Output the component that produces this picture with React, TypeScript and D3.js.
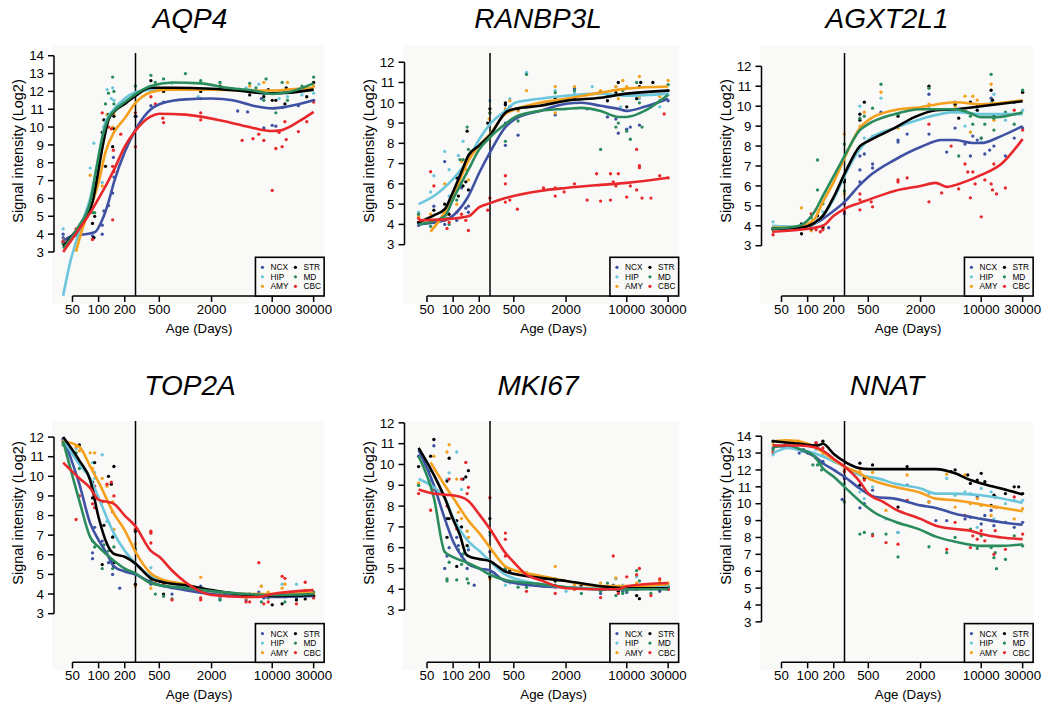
import React from "react";
import * as d3 from "d3";

type Pt = [number, number];

// brain regions, legend order is column-wise (NCX HIP AMY | STR MD CBC)
const regions = ["NCX", "HIP", "AMY", "STR", "MD", "CBC"];
const regionColors = ["#3F51A3", "#6CC6DB", "#F5A01C", "#000000", "#2A8C5C", "#E8282B"];
const genes = ["AQP4", "RANBP3L", "AGXT2L1", "TOP2A", "MKI67", "NNAT"];
const xTicks = [50, 100, 200, 500, 2000, 10000, 30000];
const yTickTop = [14, 12, 12, 12, 12, 14];
const birthAge = 266;

// ---- AQP4 ----
const aqp4Curves: Record<string, Pt[]> = {
  NCX: [[39, 3.65], [50, 3.9], [60, 3.95], [90, 4.1], [110, 4.8], [130, 5.8], [150, 6.9], [200, 8.6], [266, 9.85], [400, 11.0], [550, 11.35], [1000, 11.55], [2000, 11.6], [3500, 11.5], [6000, 11.2], [10000, 11.05], [15000, 11.15], [30000, 11.5]],
  HIP: [[39, 0.55], [48, 2.6], [56, 3.7], [65, 4.7], [80, 6.0], [100, 8.3], [120, 10.3], [150, 11.0], [200, 11.6], [266, 11.95], [400, 12.1], [1000, 12.15], [3000, 12.1], [7000, 11.95], [10000, 11.9], [15000, 11.95], [30000, 12.1]],
  AMY: [[55, 3.05], [65, 4.3], [85, 5.8], [100, 6.9], [120, 8.6], [150, 9.7], [200, 10.5], [266, 11.35], [400, 11.95], [600, 12.1], [2000, 12.1], [5000, 12.05], [10000, 12.05], [15000, 12.1], [30000, 12.2]],
  STR: [[39, 3.3], [50, 3.95], [60, 4.4], [85, 5.8], [95, 7.0], [110, 8.8], [130, 10.4], [150, 10.85], [200, 11.3], [266, 11.75], [400, 12.2], [700, 12.2], [2000, 12.15], [5000, 12.0], [8000, 11.9], [12000, 11.9], [30000, 12.1]],
  MD: [[39, 3.2], [50, 3.9], [60, 4.5], [80, 5.8], [95, 7.8], [110, 9.4], [130, 10.5], [150, 10.9], [200, 11.4], [266, 11.85], [400, 12.3], [700, 12.5], [1500, 12.45], [3000, 12.2], [6000, 12.05], [10000, 11.85], [15000, 11.95], [30000, 12.45]],
  CBC: [[39, 3.0], [60, 4.3], [85, 5.4], [100, 6.0], [130, 7.0], [150, 7.6], [200, 8.9], [266, 9.8], [400, 10.6], [500, 10.75], [1000, 10.7], [3000, 10.3], [6000, 9.95], [10000, 9.78], [12000, 9.8], [20000, 10.3], [30000, 10.85]],
};
const aqp4Samples: Record<string, Pt[]> = {
  NCX: [[39, 4.0], [39, 3.8], [60, 3.9], [85, 3.9], [88, 3.8], [110, 4.5], [110, 4.0], [115, 5.3], [130, 5.6], [145, 6.3], [148, 8.3], [150, 7.2], [270, 10.6], [400, 11.2], [560, 11.4], [1500, 11.6], [4000, 10.9], [5200, 10.85], [7500, 11.6], [8000, 9.95], [10000, 10.1], [11000, 10.05], [13000, 11.1], [20000, 11.2], [30000, 11.5]],
  HIP: [[39, 4.3], [80, 7.7], [88, 9.1], [110, 6.9], [115, 9.6], [125, 12.1], [140, 11.6], [145, 12.2], [150, 11.5], [265, 11.9], [400, 12.0], [700, 12.45], [1400, 11.7], [2500, 12.5], [5000, 12.2], [7000, 12.4], [8000, 11.8], [12000, 11.6], [15000, 11.7], [22000, 11.8], [30000, 11.9]],
  AMY: [[40, 3.7], [55, 3.1], [80, 7.3], [85, 5.9], [110, 6.7], [125, 10.7], [145, 10.0], [150, 10.7], [265, 11.9], [400, 12.1], [560, 12.05], [1500, 12.1], [2500, 12.3], [5500, 12.3], [8000, 12.5], [12000, 12.0], [15000, 12.5], [25000, 12.1], [30000, 12.3]],
  STR: [[39, 3.5], [60, 4.2], [85, 4.6], [88, 3.8], [90, 5.0], [110, 9.7], [115, 10.4], [120, 7.8], [130, 10.7], [145, 8.9], [150, 9.9], [150, 10.6], [265, 10.6], [400, 12.6], [560, 12.0], [1500, 12.0], [2500, 12.3], [5500, 11.8], [8000, 11.7], [9000, 12.1], [10000, 11.5], [11000, 11.5], [14000, 11.3], [14500, 12.2], [25000, 11.7], [30000, 12.5]],
  MD: [[39, 3.5], [85, 5.2], [90, 5.2], [115, 10.0], [120, 11.3], [130, 11.9], [145, 12.8], [150, 11.3], [150, 12.0], [265, 12.3], [400, 12.9], [450, 12.5], [560, 12.7], [1000, 13.0], [1500, 12.6], [2500, 12.5], [5500, 12.45], [6500, 12.2], [8000, 11.5], [8500, 12.7], [11000, 10.8], [13000, 12.5], [15000, 11.5], [22000, 12.3], [30000, 12.8]],
  CBC: [[39, 3.6], [55, 4.3], [85, 3.7], [110, 10.8], [130, 10.0], [140, 9.9], [145, 4.8], [145, 7.8], [148, 8.7], [150, 7.5], [180, 9.6], [265, 8.9], [265, 10.8], [400, 11.7], [450, 11.3], [550, 10.5], [560, 10.25], [1500, 10.4], [1500, 10.8], [4500, 9.25], [6000, 9.35], [7000, 9.6], [8000, 9.25], [10000, 6.45], [11000, 8.8], [12000, 9.7], [13000, 8.9], [14000, 10.3], [14500, 9.3], [20000, 9.75], [25000, 10.3], [30000, 11.4]],
};

// ---- RANBP3L ----
const ranbp3lCurves: Record<string, Pt[]> = {
  NCX: [[40, 4.0], [80, 4.2], [110, 4.6], [150, 5.4], [200, 6.55], [266, 7.55], [400, 8.8], [520, 9.2], [1000, 9.6], [2000, 9.95], [3000, 10.0], [5000, 9.85], [8000, 9.7], [10000, 9.6], [16000, 9.8], [30000, 10.2]],
  HIP: [[40, 5.0], [60, 5.4], [100, 6.25], [150, 7.2], [200, 8.2], [266, 8.95], [400, 9.6], [520, 10.0], [1000, 10.2], [2000, 10.35], [5000, 10.45], [10000, 10.35], [30000, 10.45]],
  AMY: [[55, 3.64], [80, 4.6], [100, 5.4], [150, 7.15], [200, 7.9], [266, 8.45], [400, 9.45], [1000, 10.0], [2000, 10.2], [5000, 10.5], [10000, 10.7], [30000, 10.8]],
  STR: [[40, 4.1], [60, 4.45], [80, 4.75], [95, 5.4], [125, 6.6], [150, 7.4], [200, 7.9], [266, 8.4], [410, 9.55], [520, 9.7], [1000, 9.85], [2000, 10.1], [5000, 10.25], [10000, 10.45], [30000, 10.6]],
  MD: [[40, 4.0], [80, 4.4], [100, 5.25], [150, 6.7], [200, 7.7], [266, 8.3], [400, 8.95], [520, 9.3], [1000, 9.6], [2000, 9.7], [3000, 9.75], [5000, 9.6], [8000, 9.3], [10000, 9.3], [16000, 9.6], [30000, 10.4]],
  CBC: [[40, 4.2], [80, 4.25], [150, 4.4], [200, 4.85], [266, 5.05], [400, 5.3], [1000, 5.65], [2000, 5.8], [5000, 5.95], [10000, 6.05], [30000, 6.3]],
};
const ranbp3lSamples: Record<string, Pt[]> = {
  NCX: [[40, 3.95], [40, 4.1], [60, 4.9], [80, 7.1], [80, 4.0], [110, 4.2], [125, 5.8], [140, 4.8], [150, 4.6], [150, 4.9], [400, 7.9], [400, 9.0], [560, 8.4], [1500, 9.4], [2500, 10.7], [3500, 9.7], [6000, 9.3], [7500, 9.2], [8000, 8.5], [10000, 8.7], [11000, 8.8], [14000, 8.9], [19000, 9.8], [30000, 10.1]],
  HIP: [[40, 4.6], [55, 5.6], [60, 6.4], [80, 7.6], [90, 5.4], [90, 6.7], [115, 7.4], [130, 8.1], [150, 7.4], [265, 10.1], [265, 7.5], [400, 9.9], [450, 10.2], [700, 11.5], [1500, 10.6], [2500, 10.5], [4000, 10.8], [7500, 10.8], [8500, 9.8], [12000, 10.4], [14000, 10.2], [24000, 9.8], [30000, 10.4]],
  AMY: [[40, 4.4], [55, 4.5], [80, 6.0], [85, 4.5], [110, 5.0], [125, 7.1], [140, 6.7], [150, 6.2], [260, 9.2], [265, 9.5], [400, 9.7], [450, 10.1], [560, 9.6], [700, 10.6], [1500, 10.8], [1500, 9.5], [2500, 10.8], [5000, 10.6], [7500, 10.8], [8000, 10.2], [9000, 11.1], [10000, 10.8], [14000, 11.3], [14000, 10.3], [24000, 10.3], [30000, 11.1]],
  STR: [[40, 4.1], [55, 4.1], [60, 4.7], [80, 5.0], [90, 4.5], [110, 6.3], [115, 5.4], [125, 6.6], [130, 5.9], [140, 6.1], [145, 8.6], [150, 5.7], [250, 9.0], [265, 9.7], [400, 10.0], [400, 9.9], [450, 9.8], [560, 9.7], [1500, 10.2], [2500, 10.2], [5000, 10.5], [6000, 10.1], [7500, 10.5], [8000, 11.0], [10000, 9.8], [13000, 10.2], [14000, 10.8], [14500, 11.0], [20000, 11.0], [30000, 10.6]],
  MD: [[40, 4.5], [55, 3.9], [85, 4.3], [90, 4.0], [110, 5.2], [120, 7.2], [130, 7.2], [145, 8.8], [150, 7.7], [265, 9.5], [400, 8.1], [400, 9.6], [560, 9.1], [700, 11.4], [1500, 10.5], [2500, 10.6], [5000, 7.7], [6000, 10.4], [7500, 8.8], [8000, 9.0], [9000, 10.6], [10000, 8.6], [11000, 8.2], [13000, 11.0], [14000, 10.0], [15000, 8.8], [24000, 10.1], [30000, 10.9]],
  CBC: [[40, 4.3], [55, 6.6], [60, 5.9], [80, 4.2], [85, 3.8], [90, 4.1], [110, 4.6], [125, 4.5], [140, 4.2], [150, 3.7], [250, 4.7], [265, 5.3], [400, 6.4], [400, 6.0], [400, 5.1], [450, 5.2], [550, 4.75], [1100, 5.8], [1500, 5.8], [1500, 5.4], [1900, 5.6], [2500, 6.0], [3500, 5.2], [4500, 6.5], [5000, 5.15], [6500, 6.5], [6500, 5.2], [7000, 6.1], [7500, 5.9], [8000, 6.5], [10000, 5.35], [11000, 5.9], [13000, 7.7], [13000, 5.7], [14000, 6.9], [14000, 6.8], [15000, 5.3], [19000, 5.3], [24000, 6.4], [27000, 9.45], [30000, 6.3]],
};

// ---- AGXT2L1 ----
const agxt2l1Curves: Record<string, Pt[]> = {
  NCX: [[39, 3.85], [80, 3.9], [120, 4.1], [150, 4.35], [200, 4.75], [266, 5.2], [400, 6.05], [500, 6.45], [1000, 7.3], [2000, 7.95], [3500, 8.3], [5000, 8.3], [8000, 8.15], [10000, 8.15], [17000, 8.5], [30000, 9.0]],
  HIP: [[39, 4.0], [80, 3.95], [120, 4.1], [150, 4.5], [200, 5.35], [266, 6.5], [400, 7.85], [500, 8.3], [1000, 8.9], [2000, 9.35], [5000, 9.7], [10000, 9.6], [30000, 9.6]],
  AMY: [[39, 3.9], [80, 3.95], [120, 4.35], [150, 5.2], [200, 6.2], [266, 7.4], [400, 8.9], [500, 9.3], [1000, 9.8], [2000, 9.95], [5000, 10.2], [10000, 10.1], [30000, 10.3]],
  STR: [[39, 3.85], [80, 3.9], [120, 4.15], [150, 4.5], [200, 5.45], [266, 6.6], [400, 8.0], [500, 8.25], [1000, 8.9], [1700, 9.45], [3000, 9.8], [5000, 9.85], [10000, 10.0], [30000, 10.25]],
  MD: [[39, 3.85], [80, 4.0], [120, 4.7], [150, 5.5], [200, 6.5], [266, 7.5], [400, 8.8], [500, 9.1], [1000, 9.6], [2000, 9.85], [5000, 9.85], [7000, 9.7], [10000, 9.45], [15000, 9.45], [30000, 9.7]],
  CBC: [[39, 3.7], [80, 3.8], [150, 4.0], [200, 4.5], [266, 4.85], [400, 5.15], [500, 5.3], [1000, 5.75], [2000, 6.0], [3000, 6.15], [4000, 5.95], [5500, 6.1], [10000, 6.55], [17000, 7.1], [30000, 8.35]],
};
const agxt2l1Samples: Record<string, Pt[]> = {
  NCX: [[40, 3.9], [55, 3.8], [85, 3.9], [110, 3.8], [150, 4.0], [175, 3.9], [265, 4.6], [265, 5.1], [400, 6.2], [400, 6.8], [400, 7.5], [450, 7.6], [560, 7.1], [560, 6.9], [700, 9.7], [1100, 8.3], [1100, 8.2], [1400, 8.6], [2500, 8.6], [2500, 10.6], [4000, 7.7], [5000, 8.9], [6500, 8.1], [7500, 7.5], [8000, 8.5], [9000, 8.3], [10000, 8.4], [11000, 7.6], [12500, 7.8], [13000, 10.4], [14000, 8.0], [19000, 7.5], [24000, 8.4], [30000, 8.9]],
  HIP: [[40, 4.2], [60, 3.9], [85, 3.9], [110, 4.0], [130, 4.3], [150, 4.7], [265, 5.2], [400, 10.0], [450, 8.4], [560, 8.5], [700, 10.4], [1400, 9.2], [2500, 9.9], [5000, 9.7], [6500, 9.0], [7500, 8.7], [9000, 9.8], [10000, 8.2], [13000, 10.2], [14000, 10.6], [19000, 9.3], [24000, 9.6], [30000, 9.8]],
  AMY: [[40, 3.8], [85, 4.9], [110, 3.75], [125, 4.8], [150, 4.5], [265, 8.6], [265, 5.6], [400, 9.0], [450, 9.7], [700, 10.7], [1100, 8.9], [1400, 9.8], [2500, 10.1], [5000, 10.0], [6500, 10.5], [7500, 8.7], [8000, 10.5], [9000, 10.3], [13000, 11.1], [14000, 9.3], [19000, 9.6], [30000, 10.7]],
  STR: [[40, 3.85], [55, 3.9], [85, 3.6], [85, 4.1], [110, 3.85], [130, 4.5], [150, 3.9], [265, 6.3], [265, 6.2], [400, 9.6], [400, 9.3], [450, 10.2], [1100, 9.5], [2500, 11.0], [5000, 10.1], [5500, 9.4], [7500, 10.2], [9000, 9.8], [13000, 10.8], [13500, 10.3], [14000, 9.5], [24000, 10.2], [30000, 10.7]],
  MD: [[40, 3.8], [85, 4.0], [110, 4.4], [130, 7.3], [130, 5.8], [150, 5.1], [265, 8.1], [265, 5.75], [400, 9.4], [450, 9.5], [560, 9.9], [700, 11.1], [1100, 9.6], [2500, 10.9], [5000, 10.2], [5500, 7.5], [7500, 9.5], [8000, 9.1], [9000, 10.0], [10000, 8.4], [11000, 9.1], [13000, 11.6], [14000, 9.4], [14000, 8.8], [19000, 9.7], [24000, 9.1], [30000, 10.8]],
  CBC: [[40, 3.55], [55, 3.8], [85, 3.85], [110, 4.6], [125, 3.8], [140, 3.7], [150, 3.8], [265, 4.7], [265, 5.1], [400, 4.8], [400, 5.6], [400, 5.3], [540, 5.2], [560, 4.95], [1100, 6.2], [1100, 6.3], [1400, 6.4], [2500, 9.1], [2500, 5.2], [3500, 5.65], [4500, 8.0], [5500, 5.85], [6500, 7.1], [7000, 6.7], [7500, 5.4], [8000, 6.7], [8500, 6.1], [10000, 4.45], [11000, 6.3], [13000, 6.1], [13500, 5.8], [14000, 7.1], [15000, 5.6], [19000, 5.9], [24000, 9.8], [30000, 8.8]],
};

// ---- TOP2A ----
const top2aCurves: Record<string, Pt[]> = {
  NCX: [[39, 12.0], [60, 9.6], [80, 7.6], [100, 6.75], [125, 6.05], [150, 5.4], [200, 5.15], [266, 5.0], [400, 4.6], [1000, 4.2], [2000, 4.0], [5000, 3.9], [10000, 3.85], [30000, 3.9]],
  HIP: [[39, 11.9], [60, 10.6], [80, 9.9], [100, 8.9], [150, 7.1], [200, 6.2], [266, 5.55], [400, 4.9], [1000, 4.4], [2000, 4.15], [5000, 4.0], [10000, 3.9], [30000, 4.0]],
  AMY: [[39, 11.8], [60, 11.5], [80, 10.5], [100, 9.7], [150, 8.1], [200, 7.25], [266, 6.15], [400, 5.05], [500, 4.8], [1000, 4.5], [2000, 4.15], [5000, 4.0], [10000, 4.0], [30000, 4.05]],
  STR: [[39, 12.0], [60, 10.8], [80, 9.8], [100, 7.9], [125, 6.55], [150, 6.05], [200, 5.9], [266, 5.55], [400, 4.8], [550, 4.6], [1000, 4.45], [2000, 4.2], [5000, 3.95], [10000, 3.9], [30000, 3.95]],
  MD: [[39, 11.8], [60, 8.75], [80, 6.9], [100, 6.4], [150, 5.7], [200, 5.3], [266, 5.05], [400, 4.55], [1000, 4.3], [2000, 4.15], [5000, 4.0], [10000, 3.95], [30000, 4.0]],
  CBC: [[39, 10.7], [60, 9.9], [80, 9.4], [100, 8.8], [125, 8.7], [150, 8.6], [200, 8.0], [266, 7.45], [400, 6.2], [500, 5.9], [700, 5.2], [1000, 4.6], [2000, 3.95], [5000, 3.85], [7000, 3.85], [10000, 4.0], [30000, 4.2]],
};
const top2aSamples: Record<string, Pt[]> = {
  NCX: [[39, 11.7], [85, 6.1], [85, 5.8], [90, 7.4], [110, 6.7], [130, 5.6], [140, 5.7], [145, 5.0], [150, 5.4], [175, 4.3], [400, 4.5], [560, 3.9], [700, 4.0], [1500, 4.4], [2500, 3.8], [5000, 3.7], [7000, 4.1], [8000, 3.8], [11000, 3.9], [14000, 3.85], [19000, 3.8], [30000, 3.9]],
  HIP: [[39, 11.8], [55, 11.4], [85, 10.7], [90, 10.2], [90, 9.9], [110, 11.1], [125, 7.7], [150, 7.0], [265, 6.2], [400, 5.35], [560, 4.4], [700, 4.3], [1500, 4.2], [2500, 3.7], [5000, 3.95], [7500, 4.4], [9000, 4.0], [13000, 4.5], [19000, 4.5], [30000, 4.0]],
  AMY: [[39, 11.7], [55, 11.5], [60, 11.3], [80, 11.2], [85, 10.4], [90, 11.2], [110, 9.9], [125, 9.5], [145, 8.7], [150, 7.3], [265, 6.55], [265, 4.4], [400, 4.3], [450, 4.6], [560, 4.5], [1500, 4.85], [2500, 3.9], [5000, 3.8], [7500, 4.4], [9000, 4.1], [13000, 4.3], [14000, 4.5], [24000, 4.2], [30000, 4.0]],
  STR: [[39, 11.9], [60, 11.6], [85, 9.7], [85, 8.9], [90, 10.7], [90, 9.3], [110, 5.5], [115, 7.5], [130, 10.0], [140, 9.6], [145, 6.9], [150, 10.5], [150, 5.6], [265, 4.5], [265, 7.2], [400, 4.7], [560, 4.0], [1500, 4.1], [2500, 4.0], [5500, 4.0], [8000, 3.9], [10000, 3.45], [13000, 3.5], [19000, 3.7], [24000, 3.75], [30000, 3.9]],
  MD: [[39, 11.6], [55, 11.2], [60, 10.4], [85, 6.7], [90, 6.4], [110, 5.3], [115, 6.5], [130, 6.2], [145, 5.3], [150, 6.4], [265, 6.3], [400, 4.7], [450, 4.0], [560, 3.9], [700, 3.75], [1500, 4.2], [2500, 3.7], [5000, 3.9], [7500, 3.6], [9000, 3.8], [13000, 3.9], [14000, 3.6], [24000, 4.0], [30000, 4.1]],
  CBC: [[39, 11.8], [55, 7.8], [60, 9.0], [85, 8.6], [90, 8.4], [90, 9.5], [110, 8.7], [125, 9.6], [140, 9.7], [145, 8.2], [150, 9.0], [265, 7.3], [400, 7.2], [400, 7.1], [400, 6.6], [560, 4.5], [700, 3.7], [1500, 3.8], [1500, 3.7], [2500, 4.1], [5000, 3.6], [5500, 3.6], [7000, 5.6], [8000, 3.5], [9000, 3.6], [13000, 4.9], [14000, 4.8], [19000, 3.5], [24000, 4.6], [30000, 3.8]],
};

// ---- MKI67 ----
const mki67Curves: Record<string, Pt[]> = {
  NCX: [[40, 10.7], [60, 9.0], [80, 7.4], [100, 6.3], [130, 5.5], [150, 5.2], [200, 5.0], [266, 4.9], [400, 4.4], [1000, 4.15], [2000, 4.1], [5000, 4.0], [10000, 4.0], [30000, 4.1]],
  HIP: [[40, 9.3], [60, 8.9], [80, 8.4], [100, 7.45], [150, 6.3], [200, 5.85], [266, 5.35], [400, 4.7], [1000, 4.25], [2000, 4.1], [5000, 4.05], [10000, 4.05], [30000, 4.15]],
  AMY: [[55, 10.1], [80, 9.0], [100, 8.4], [150, 7.3], [200, 6.7], [266, 6.0], [400, 5.1], [520, 4.9], [1000, 4.65], [2000, 4.4], [5000, 4.15], [10000, 4.15], [30000, 4.25]],
  STR: [[40, 10.8], [60, 9.5], [80, 8.4], [100, 7.35], [120, 6.6], [140, 5.7], [150, 5.6], [200, 5.45], [266, 5.35], [400, 4.85], [1000, 4.55], [2000, 4.4], [5000, 4.15], [10000, 4.05], [30000, 4.05]],
  MD: [[40, 10.4], [60, 8.4], [80, 5.8], [100, 5.55], [150, 5.25], [200, 5.0], [266, 4.7], [400, 4.45], [1000, 4.25], [2000, 4.1], [5000, 4.0], [10000, 4.0], [30000, 4.0]],
  CBC: [[40, 8.8], [60, 8.6], [80, 8.55], [120, 8.45], [150, 8.25], [200, 7.6], [266, 6.9], [400, 5.75], [500, 5.3], [700, 4.7], [1000, 4.45], [2000, 4.05], [5000, 4.0], [8000, 4.0], [10000, 4.15], [30000, 4.3]],
};
const mki67Samples: Record<string, Pt[]> = {
  NCX: [[40, 10.4], [60, 10.9], [80, 5.0], [85, 5.6], [90, 6.0], [110, 6.5], [115, 6.1], [125, 5.6], [145, 5.0], [150, 5.9], [175, 4.2], [265, 5.8], [400, 4.9], [560, 4.3], [1500, 4.5], [5000, 3.8], [7000, 4.2], [9000, 3.9], [10000, 3.85], [13000, 4.0], [24000, 3.9], [30000, 4.1]],
  HIP: [[40, 9.0], [55, 9.2], [85, 9.3], [90, 9.6], [110, 10.6], [125, 8.8], [145, 6.8], [150, 6.0], [265, 6.6], [400, 4.2], [450, 4.3], [700, 4.1], [1500, 4.4], [2000, 3.9], [5000, 4.3], [7500, 4.5], [9000, 4.2], [13000, 4.6], [19000, 4.0], [30000, 4.2]],
  AMY: [[40, 9.1], [60, 10.4], [85, 10.6], [90, 10.95], [110, 9.3], [115, 7.7], [125, 7.4], [145, 6.8], [150, 6.5], [265, 4.5], [400, 4.4], [450, 4.9], [700, 4.8], [1500, 5.1], [2500, 4.2], [5000, 4.3], [7500, 4.55], [9000, 4.0], [13000, 4.3], [24000, 4.4], [30000, 4.3]],
  STR: [[40, 9.9], [55, 10.4], [60, 11.2], [85, 9.2], [85, 7.4], [85, 6.5], [90, 10.3], [90, 7.4], [110, 7.3], [110, 5.1], [125, 7.0], [130, 9.3], [140, 9.4], [145, 6.1], [150, 9.7], [265, 7.4], [265, 4.6], [400, 5.0], [450, 4.9], [1500, 4.4], [3000, 4.2], [5500, 4.0], [8000, 3.9], [13000, 3.7], [14000, 3.55], [24000, 4.0], [30000, 4.0]],
  MD: [[40, 9.0], [55, 9.7], [85, 4.5], [85, 4.4], [90, 5.3], [110, 4.45], [115, 5.9], [125, 5.2], [130, 5.7], [145, 4.5], [150, 4.3], [265, 6.75], [400, 5.0], [560, 4.1], [700, 4.1], [1500, 4.2], [3000, 3.8], [5000, 3.9], [6000, 4.3], [7500, 3.7], [9000, 3.8], [10000, 3.9], [13000, 4.9], [14000, 4.4], [19000, 3.8], [30000, 4.1]],
  CBC: [[40, 8.6], [55, 7.8], [60, 8.8], [85, 8.0], [90, 9.3], [110, 6.9], [125, 9.3], [140, 10.1], [145, 8.6], [150, 8.9], [265, 8.4], [400, 6.7], [400, 6.4], [400, 5.6], [560, 4.3], [700, 3.9], [1500, 4.1], [1500, 3.8], [2500, 4.0], [5000, 3.6], [5500, 4.0], [7000, 5.6], [8000, 3.8], [10000, 4.6], [13000, 4.7], [14000, 5.0], [19000, 3.7], [24000, 4.5], [30000, 4.0]],
};

// ---- NNAT ----
const nnatCurves: Record<string, Pt[]> = {
  NCX: [[40, 13.45], [60, 13.35], [80, 13.2], [120, 12.8], [150, 12.4], [200, 12.0], [266, 11.6], [400, 10.9], [600, 10.4], [1000, 10.3], [2000, 9.9], [3000, 9.75], [5000, 9.4], [10000, 9.1], [17000, 8.9], [30000, 8.75]],
  HIP: [[40, 13.0], [60, 13.3], [80, 13.2], [100, 13.1], [150, 12.8], [200, 12.5], [266, 12.2], [400, 11.7], [500, 11.6], [640, 11.5], [1000, 11.2], [2000, 10.9], [3000, 10.6], [5000, 10.6], [10000, 10.5], [30000, 10.05]],
  AMY: [[40, 13.7], [60, 13.75], [100, 13.55], [150, 13.05], [200, 12.6], [266, 12.2], [400, 11.8], [500, 11.5], [1000, 11.0], [2000, 10.65], [3000, 10.3], [5000, 10.2], [10000, 9.95], [30000, 9.55]],
  STR: [[40, 13.7], [80, 13.55], [130, 13.45], [150, 13.55], [200, 12.95], [266, 12.5], [400, 12.1], [500, 12.05], [1000, 12.05], [3000, 12.05], [5000, 11.8], [7500, 11.4], [10000, 11.2], [17000, 10.9], [30000, 10.55]],
  MD: [[40, 13.35], [60, 13.45], [80, 13.25], [120, 12.8], [150, 12.1], [200, 11.6], [266, 11.0], [400, 10.15], [600, 9.45], [1000, 8.95], [2000, 8.45], [3000, 8.05], [5000, 7.75], [10000, 7.5], [17000, 7.5], [30000, 7.6]],
  CBC: [[40, 13.45], [80, 13.45], [120, 13.35], [150, 13.15], [200, 12.65], [266, 12.2], [400, 11.3], [500, 10.6], [750, 10.1], [1000, 9.7], [2000, 9.1], [3000, 8.7], [5000, 8.5], [7500, 8.4], [10000, 8.2], [17000, 8.0], [30000, 7.9]],
};
const nnatSamples: Record<string, Pt[]> = {
  NCX: [[40, 13.3], [55, 13.4], [80, 13.0], [90, 13.2], [125, 12.7], [150, 12.5], [250, 10.25], [265, 11.5], [400, 9.75], [450, 10.0], [560, 10.8], [1100, 8.3], [1400, 11.1], [2500, 10.1], [3000, 9.0], [4000, 9.0], [6500, 9.1], [7500, 9.2], [9000, 10.4], [10000, 8.8], [11000, 9.3], [13000, 9.6], [14000, 8.7], [19000, 8.9], [24000, 8.6], [30000, 8.9]],
  HIP: [[40, 12.9], [85, 13.1], [125, 13.2], [150, 12.9], [265, 11.2], [400, 10.7], [450, 10.3], [560, 11.0], [800, 9.1], [1100, 8.3], [2500, 10.6], [4000, 11.5], [5000, 10.5], [6500, 10.7], [7500, 10.6], [9000, 8.6], [10000, 10.9], [13000, 10.7], [14000, 9.1], [19000, 10.0], [24000, 10.2], [30000, 10.2]],
  AMY: [[40, 13.5], [55, 13.75], [80, 13.7], [90, 13.5], [130, 13.3], [150, 13.0], [265, 12.0], [400, 11.9], [450, 11.5], [560, 11.85], [800, 9.6], [1400, 11.7], [2500, 10.1], [4000, 11.75], [5000, 9.8], [6500, 11.7], [7500, 10.0], [9000, 10.3], [10000, 9.9], [13000, 9.3], [14000, 9.8], [24000, 9.1], [30000, 9.7]],
  STR: [[40, 13.7], [80, 13.6], [125, 13.6], [150, 13.7], [265, 11.6], [400, 12.4], [400, 11.1], [450, 11.5], [560, 12.3], [1100, 9.8], [1400, 12.2], [4500, 11.9], [5000, 12.0], [7000, 11.7], [7500, 11.2], [9000, 11.4], [10000, 11.8], [11000, 11.3], [13000, 9.9], [14000, 10.5], [14500, 10.4], [19000, 10.6], [24000, 11.0], [27000, 11.0], [30000, 10.6]],
  MD: [[40, 13.2], [60, 13.4], [100, 13.0], [115, 12.3], [130, 12.3], [145, 12.0], [150, 12.4], [265, 10.1], [400, 8.2], [450, 8.3], [560, 8.2], [800, 8.2], [1100, 6.85], [2500, 7.45], [4000, 7.1], [5000, 8.0], [7500, 8.5], [9000, 7.35], [10000, 8.1], [13000, 7.4], [14000, 6.8], [14500, 7.1], [15000, 6.15], [19000, 6.7], [24000, 8.1], [30000, 7.5]],
  CBC: [[40, 13.05], [55, 13.5], [80, 13.55], [90, 13.6], [125, 13.6], [150, 13.3], [265, 11.9], [400, 12.1], [450, 11.4], [560, 8.1], [800, 7.7], [1100, 7.6], [1400, 10.2], [4000, 7.3], [5000, 8.9], [6500, 9.3], [7500, 7.4], [8000, 8.1], [9000, 7.9], [10000, 8.4], [11000, 7.8], [13000, 9.0], [14000, 7.0], [14500, 8.4], [15000, 9.8], [19000, 7.3], [24000, 10.4], [30000, 8.2]],
};

const panelCurves = [aqp4Curves, ranbp3lCurves, agxt2l1Curves, top2aCurves, mki67Curves, nnatCurves];
const panelSamples = [aqp4Samples, ranbp3lSamples, agxt2l1Samples, top2aSamples, mki67Samples, nnatSamples];

// layout (pixels)
const W = 1052;
const H = 707;
const colAxisX = [54, 404.5, 761.5];
const colX50 = [72.5, 427, 781.5];
const colTitleX = [190, 538, 887];
const decadePx = 86.8;
const rowAxisY = [296, 662.3];
const rowBgTop = [45, 421];
const rowBgBottom = [304, 670];
const rowVTop = [53, 421];
const rowZeroY = [305.5, 672.5];
const rowTitleY = [28, 395];
const rowYLabelMid = [151, 513];
const yDomainTop = [14.6, 12.85, 13.07, 12.82, 12.09, 14.9];
const FONT = "'Liberation Sans', Arial, Helvetica, sans-serif";
const BG = "#f9f9f7";

function Panel({ idx }: { idx: number }) {
  const col = idx % 3;
  const row = Math.floor(idx / 3);
  const x = d3.scaleLog().domain([50, 30000]).range([colX50[col], colX50[col] + decadePx * Math.log10(600)]);
  const y = d3.scaleLinear().domain([0, yDomainTop[idx]]).range([rowZeroY[row], rowBgTop[row]]);
  const axisX = colAxisX[col];
  const axisY = rowAxisY[row];
  const x0 = x(50);
  const x1 = x(30000);
  const bgRight = x1 + 10.5;
  const yTicks = d3.range(3, yTickTop[idx] + 1);
  const line = d3.line<Pt>().x(d => x(d[0])).y(d => y(d[1])).curve(d3.curveMonotoneX);
  const curves = panelCurves[idx];
  const samples = panelSamples[idx];
  const legW = 68.7;
  const legH = 38.7;
  const legX = bgRight - legW;
  const legY = axisY - legH;
  const midX = (x0 + x1) / 2;

  return (
    <g>
      <rect x={axisX - 2} y={rowBgTop[row]} width={bgRight - axisX + 2} height={rowBgBottom[row] - rowBgTop[row]} fill={BG} />

      {regions.map((r, i) => (
        <g key={"p" + r}>
          {samples[r].map((d, j) => (
            <circle key={j} cx={x(d[0])} cy={y(d[1])} r={1.65} fill={regionColors[i]} />
          ))}
        </g>
      ))}

      <line x1={x(birthAge)} x2={x(birthAge)} y1={rowVTop[row]} y2={axisY} stroke="#000" strokeWidth={1.5} />

      {regions.map((r, i) => (
        <path key={"l" + r} d={line(curves[r]) || ""} fill="none" stroke={regionColors[i]} strokeWidth={2.6} strokeLinejoin="round" />
      ))}

      {/* x axis */}
      <line x1={x0} x2={x1} y1={axisY} y2={axisY} stroke="#000" strokeWidth={1.5} />
      {xTicks.map(t => (
        <g key={t}>
          <line x1={x(t)} x2={x(t)} y1={axisY} y2={axisY + 6} stroke="#000" strokeWidth={1.5} />
          <text x={x(t)} y={axisY + 17.5} textAnchor="middle" fontSize={13.3} fontFamily={FONT}>{t}</text>
        </g>
      ))}
      <text x={midX + 6} y={axisY + 37} textAnchor="middle" fontSize={13.3} fontFamily={FONT}>Age (Days)</text>

      {/* y axis */}
      <line x1={axisX} x2={axisX} y1={y(3)} y2={y(yTickTop[idx])} stroke="#000" strokeWidth={1.5} />
      {yTicks.map(t => (
        <g key={t}>
          <line x1={axisX - 6} x2={axisX} y1={y(t)} y2={y(t)} stroke="#000" strokeWidth={1.5} />
          <text x={axisX - 10} y={y(t)} dy="0.36em" textAnchor="end" fontSize={13.3} fontFamily={FONT}>{t}</text>
        </g>
      ))}
      <text transform={`translate(${axisX - 31},${rowYLabelMid[row]}) rotate(-90)`} textAnchor="middle" fontSize={14.5} fontFamily={FONT}>
        Signal intensity (Log2)
      </text>

      {/* title */}
      <text x={colTitleX[col]} y={rowTitleY[row]} textAnchor="middle" fontSize={28} fontStyle="italic" fontFamily={FONT}>{genes[idx]}</text>

      {/* legend */}
      <rect x={legX} y={legY} width={legW} height={legH} fill={BG} stroke="#000" strokeWidth={1.6} />
      {regions.map((r, i) => {
        const c = Math.floor(i / 3);
        const k = i % 3;
        const ly = legY + 10 + k * 9.5;
        const lx = legX + 7 + c * 33;
        return (
          <g key={"g" + r}>
            <circle cx={lx} cy={ly} r={1.6} fill={regionColors[i]} />
            <text x={lx + 8} y={ly} dy="0.36em" fontSize={8.3} fontFamily={FONT}>{r}</text>
          </g>
        );
      })}
    </g>
  );
}

export default function App() {
  return (
    <svg width={W} height={H} style={{ position: "absolute", left: 0, top: 0, background: "#fff" }}>
      {genes.map((g, i) => (
        <Panel key={g} idx={i} />
      ))}
    </svg>
  );
}
